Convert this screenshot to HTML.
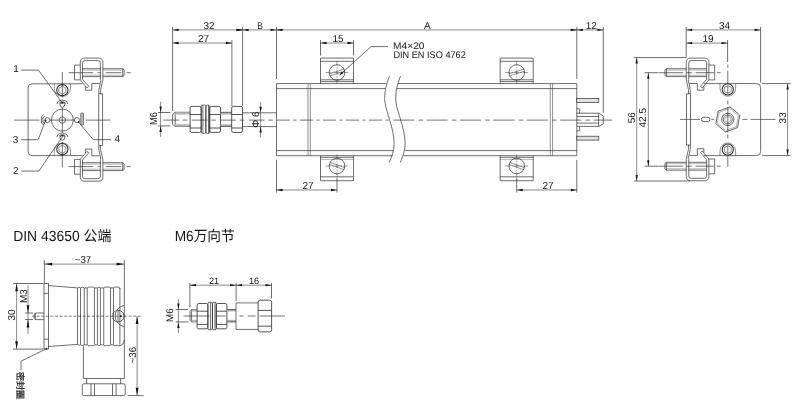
<!DOCTYPE html>
<html lang="zh"><head><meta charset="utf-8"><title>Dimensions</title>
<style>
html,body{margin:0;padding:0;background:#fff}
svg{display:block;will-change:transform}
svg line,svg path,svg rect,svg circle,svg polygon{fill:none;stroke:#2a2a2a;stroke-width:.68}
svg .d{stroke-width:.55}
svg .ar{fill:#111;stroke:none}
svg text.cj{stroke:#141414;stroke-width:.22}
svg .dot{fill:#111;stroke:none}
svg .pin{fill:#e2e2e2}
svg .th{stroke-width:.45;stroke:#555}
svg .thr{fill:#b4b4b4;stroke:none}
svg .ring{stroke-width:1.05}
svg .hx{stroke-width:.6;stroke:#444}
svg .n{stroke-width:.72}
svg .sl{stroke-width:.5}
svg .bar{fill:#c4c4c4;stroke-width:.6}
svg .nut{stroke-width:.8}
svg .lt{stroke-width:.45;stroke:#555}
svg .lt2{stroke-width:.6;stroke:#444}
svg .c{stroke-dasharray:9 2.2 2.2 2.2;stroke-width:.55}
svg .c2{stroke-dasharray:5 1.3 1.3 1.3;stroke-width:.45}
svg .c3{stroke-dasharray:3 1.6;stroke-width:.6}
svg .dsh{stroke-dasharray:1.6 1.1;stroke-width:.9}
svg .cl{stroke-width:.66}
svg text{font-family:"Liberation Sans","Noto Sans CJK SC",sans-serif;fill:#141414;stroke:none;text-rendering:geometricPrecision}
</style></head><body>
<svg width="800" height="407" viewBox="0 0 800 407">
<rect x="0" y="0" width="800" height="407" style="fill:#fff;stroke:none"/>

<g id="main">
<path d="M386.4 83.6 H276.5 V155.7 H392.6"/>
<path d="M385.4 88.6 H276.5"/>
<path d="M276.5 150.6 H393.6"/>
<line x1="308.00" y1="83.60" x2="308.00" y2="155.70" class="lt2"/>
<line x1="310.30" y1="83.60" x2="310.30" y2="155.70" class="lt2"/>
<path d="M398.0 83.6 H576.8 V155.7 H403.6"/>
<path d="M396.6 88.6 H576.8"/>
<path d="M404.8 150.6 H576.8"/>
<line x1="550.30" y1="83.60" x2="550.30" y2="155.70" class="lt2"/>
<line x1="552.60" y1="83.60" x2="552.60" y2="155.70" class="lt2"/>
<path d="M389.5 76.2 C386.3 84 383.9 93 384.9 102 C386.1 112 393.9 128 394.1 143 C394.3 151 391.5 157 389.3 162.4"/>
<path d="M400.5 76.2 C397.3 84 394.9 93 395.9 102 C397.1 112 404.9 128 405.1 143 C405.3 151 402.5 157 400.3 162.4"/>
<path d="M320.5 83.6 V58.1 H353.5 V83.6"/>
<line x1="320.50" y1="61.30" x2="353.50" y2="61.30"/>
<line x1="320.50" y1="79.80" x2="353.50" y2="79.80"/>
<line x1="320.50" y1="81.60" x2="353.50" y2="81.60"/>
<circle cx="337.00" cy="72.50" r="7.80"/>
<line x1="329.29" y1="73.71" x2="344.06" y2="69.19" class="sl"/>
<line x1="329.94" y1="75.81" x2="344.71" y2="71.29" class="sl"/>
<line x1="325.50" y1="72.50" x2="348.50" y2="72.50" class="c2"/>
<line x1="337.00" y1="61.00" x2="337.00" y2="84.00" class="c2"/>
<path d="M320.5 155.7 V180.7 H353.5 V155.7"/>
<line x1="320.50" y1="157.30" x2="353.50" y2="157.30"/>
<line x1="320.50" y1="159.40" x2="353.50" y2="159.40" class="lt"/>
<line x1="320.50" y1="176.80" x2="353.50" y2="176.80"/>
<circle cx="337.00" cy="166.00" r="7.80"/>
<line x1="330.12" y1="162.33" x2="344.63" y2="167.61" class="sl"/>
<line x1="329.37" y1="164.39" x2="343.88" y2="169.67" class="sl"/>
<line x1="325.50" y1="166.00" x2="348.50" y2="166.00" class="c2"/>
<line x1="337.00" y1="154.50" x2="337.00" y2="177.50" class="c2"/>
<path d="M500.20000000000005 83.6 V58.1 H533.2 V83.6"/>
<line x1="500.20" y1="61.30" x2="533.20" y2="61.30"/>
<line x1="500.20" y1="79.80" x2="533.20" y2="79.80"/>
<line x1="500.20" y1="81.60" x2="533.20" y2="81.60"/>
<circle cx="516.70" cy="72.50" r="7.80"/>
<line x1="508.99" y1="73.71" x2="523.76" y2="69.19" class="sl"/>
<line x1="509.64" y1="75.81" x2="524.41" y2="71.29" class="sl"/>
<line x1="505.20" y1="72.50" x2="528.20" y2="72.50" class="c2"/>
<line x1="516.70" y1="61.00" x2="516.70" y2="84.00" class="c2"/>
<path d="M500.20000000000005 155.7 V180.7 H533.2 V155.7"/>
<line x1="500.20" y1="157.30" x2="533.20" y2="157.30"/>
<line x1="500.20" y1="159.40" x2="533.20" y2="159.40" class="lt"/>
<line x1="500.20" y1="176.80" x2="533.20" y2="176.80"/>
<circle cx="516.70" cy="166.00" r="7.80"/>
<line x1="509.82" y1="162.33" x2="524.33" y2="167.61" class="sl"/>
<line x1="509.07" y1="164.39" x2="523.58" y2="169.67" class="sl"/>
<line x1="505.20" y1="166.00" x2="528.20" y2="166.00" class="c2"/>
<line x1="516.70" y1="154.50" x2="516.70" y2="177.50" class="c2"/>
<line x1="242.50" y1="112.80" x2="276.50" y2="112.80"/>
<line x1="242.50" y1="126.60" x2="276.50" y2="126.60"/>
<path d="M190.20 112.30 H175.20 L172.60 114.50 V124.30 L175.20 126.50 H190.20"/>
<line x1="175.20" y1="112.30" x2="175.20" y2="126.50"/>
<rect x="175.20" y="112.30" width="15.00" height="2.30" class="thr"/>
<rect x="175.20" y="124.20" width="15.00" height="2.30" class="thr"/>
<rect x="190.10" y="106.40" width="11.10" height="26.00" rx="1.6" class="nut"/>
<line x1="190.10" y1="114.50" x2="201.20" y2="114.50" class="nut"/>
<line x1="190.10" y1="128.00" x2="201.20" y2="128.00" class="nut"/>
<rect x="209.70" y="106.40" width="10.80" height="26.00" rx="1.6" class="nut"/>
<line x1="209.70" y1="114.50" x2="220.50" y2="114.50" class="nut"/>
<line x1="209.70" y1="128.00" x2="220.50" y2="128.00" class="nut"/>
<rect x="201.20" y="105.10" width="4.65" height="28.30" rx="1.3"/>
<rect x="205.85" y="105.10" width="3.85" height="28.30" rx="1.3"/>
<line x1="202.90" y1="105.30" x2="202.90" y2="133.20"/>
<line x1="208.50" y1="105.30" x2="208.50" y2="133.20"/>
<rect x="220.50" y="112.30" width="11.20" height="2.30" class="thr"/>
<rect x="220.50" y="124.20" width="11.20" height="2.30" class="thr"/>
<line x1="220.50" y1="112.30" x2="231.70" y2="112.30"/>
<line x1="220.50" y1="126.50" x2="231.70" y2="126.50"/>
<rect x="231.70" y="106.40" width="10.80" height="26.00" rx="1.6" class="nut"/>
<line x1="231.70" y1="114.50" x2="242.50" y2="114.50" class="nut"/>
<line x1="231.70" y1="128.00" x2="242.50" y2="128.00" class="nut"/>
<rect x="576.80" y="98.60" width="22.00" height="3.90" class="pin"/>
<rect x="576.80" y="136.20" width="22.00" height="3.90" class="pin"/>
<path d="M576.8 113.2 H598.6 L603.3 115.8 V123.8 L598.6 126.39999999999999 H576.8"/>
<line x1="598.60" y1="113.20" x2="598.60" y2="126.40"/>
<line x1="576.80" y1="116.50" x2="598.60" y2="116.50"/>
<line x1="576.80" y1="123.10" x2="598.60" y2="123.10"/>
<path d="M576.8 108.8 H579.6 V113.2"/>
<path d="M576.8 130.8 H579.6 V126.39999999999999"/>
<line x1="163.25" y1="120.1" x2="277.5" y2="120.1" class="cl" stroke-dasharray="15.75 3.75 4.5 4.5"/>
<line x1="277" y1="120.1" x2="392" y2="120.1" class="cl" stroke-dasharray="13 3.5 3 3.5"/>
<line x1="393.25" y1="120.1" x2="612" y2="120.1" class="cl" stroke-dasharray="21 4.3 4.5 3.6"/>
<line x1="172.60" y1="27.00" x2="172.60" y2="111.00"/>
<line x1="231.90" y1="40.00" x2="231.90" y2="106.00"/>
<line x1="242.60" y1="27.00" x2="242.60" y2="106.00"/>
<line x1="276.50" y1="27.00" x2="276.50" y2="79.00"/>
<line x1="576.80" y1="27.00" x2="576.80" y2="79.00"/>
<line x1="603.30" y1="27.00" x2="603.30" y2="113.00"/>
<line x1="172.60" y1="29.90" x2="242.60" y2="29.90" class="d"/>
<polygon class="ar" points="172.60,29.90 178.60,28.75 178.60,31.05"/>
<polygon class="ar" points="242.60,29.90 236.60,31.05 236.60,28.75"/>
<text x="209.00" y="28.60" font-size="10" text-anchor="middle" class="t">32</text>
<line x1="172.60" y1="43.00" x2="231.90" y2="43.00" class="d"/>
<polygon class="ar" points="172.60,43.00 178.60,41.85 178.60,44.15"/>
<polygon class="ar" points="231.90,43.00 225.90,44.15 225.90,41.85"/>
<text x="203.50" y="41.70" font-size="10" text-anchor="middle" class="t">27</text>
<line x1="236.00" y1="29.90" x2="283.00" y2="29.90" class="d"/>
<polygon class="ar" points="242.60,29.90 248.60,28.75 248.60,31.05"/>
<polygon class="ar" points="276.50,29.90 270.50,31.05 270.50,28.75"/>
<polygon class="ar" points="242.60,29.90 236.60,31.05 236.60,28.75"/>
<text x="260.00" y="28.60" font-size="10" text-anchor="middle" class="t" textLength="5.6" lengthAdjust="spacingAndGlyphs">B</text>
<line x1="276.50" y1="29.90" x2="576.80" y2="29.90" class="d"/>
<polygon class="ar" points="276.50,29.90 282.50,28.75 282.50,31.05"/>
<polygon class="ar" points="576.80,29.90 570.80,31.05 570.80,28.75"/>
<text x="427.40" y="28.50" font-size="10" text-anchor="middle" class="t">A</text>
<line x1="570.00" y1="29.90" x2="603.30" y2="29.90" class="d"/>
<polygon class="ar" points="576.80,29.90 582.80,28.75 582.80,31.05"/>
<polygon class="ar" points="603.30,29.90 597.30,31.05 597.30,28.75"/>
<text x="591.30" y="28.70" font-size="10" text-anchor="middle" class="t">12</text>
<line x1="320.50" y1="40.00" x2="320.50" y2="55.50"/>
<line x1="353.50" y1="40.00" x2="353.50" y2="55.50"/>
<line x1="320.50" y1="43.00" x2="353.50" y2="43.00" class="d"/>
<polygon class="ar" points="320.50,43.00 326.50,41.85 326.50,44.15"/>
<polygon class="ar" points="353.50,43.00 347.50,44.15 347.50,41.85"/>
<text x="338.00" y="41.60" font-size="10" text-anchor="middle" class="t">15</text>
<line x1="276.50" y1="159.80" x2="276.50" y2="192.50"/>
<line x1="337.00" y1="178.00" x2="337.00" y2="192.50"/>
<line x1="276.50" y1="190.00" x2="337.00" y2="190.00" class="d"/>
<polygon class="ar" points="276.50,190.00 282.50,188.85 282.50,191.15"/>
<polygon class="ar" points="337.00,190.00 331.00,191.15 331.00,188.85"/>
<text x="308.00" y="188.90" font-size="10" text-anchor="middle" class="t">27</text>
<line x1="576.80" y1="159.80" x2="576.80" y2="192.50"/>
<line x1="516.70" y1="178.00" x2="516.70" y2="192.50"/>
<line x1="516.70" y1="190.00" x2="576.80" y2="190.00" class="d"/>
<polygon class="ar" points="516.70,190.00 522.70,188.85 522.70,191.15"/>
<polygon class="ar" points="576.80,190.00 570.80,191.15 570.80,188.85"/>
<text x="548.10" y="188.90" font-size="10" text-anchor="middle" class="t">27</text>
<line x1="157.90" y1="112.50" x2="170.40" y2="112.50"/>
<line x1="157.90" y1="125.90" x2="170.40" y2="125.90"/>
<line x1="160.60" y1="101.70" x2="160.60" y2="136.80" class="d"/>
<polygon class="ar" points="160.60,112.50 159.45,106.50 161.75,106.50"/>
<polygon class="ar" points="160.60,125.90 161.75,131.90 159.45,131.90"/>
<text x="157.10" y="118.60" font-size="10" text-anchor="middle" class="t" textLength="12.9" lengthAdjust="spacingAndGlyphs" transform="rotate(-90 157.10 118.60)">M6</text>
<line x1="260.60" y1="102.00" x2="260.60" y2="137.50" class="d"/>
<polygon class="ar" points="260.60,112.80 259.45,106.80 261.75,106.80"/>
<polygon class="ar" points="260.60,126.60 261.75,132.60 259.45,132.60"/>
<text x="258.90" y="119.60" font-size="10" text-anchor="middle" class="t" transform="rotate(-90 258.90 119.60)">Φ 6</text>
<path d="M388 46.6 H371 L339.5 75.2"/>
<polygon class="ar" points="339.50,75.20 341.84,71.53 343.38,73.23"/>
<text x="393.10" y="49.05" font-size="9.6" text-anchor="start" class="t" textLength="31.4" lengthAdjust="spacingAndGlyphs">M4×20</text>
<text x="393.40" y="58.40" font-size="9.6" text-anchor="start" class="t" textLength="72.4" lengthAdjust="spacingAndGlyphs">DIN EN ISO 4762</text>
</g>
<g id="left">
<path d="M82.4 83.8 H32.1 Q28.1 83.8 28.1 87.8 V151.6 Q28.1 155.6 32.1 155.6 H82.4"/>
<path d="M54.25 83.8 V88.4 A8.1 8.1 0 0 0 70.45 88.4 V83.8" class="lt2"/>
<path d="M54.25 155.6 V151.0 A8.1 8.1 0 0 1 70.45 151.0 V155.6" class="lt2"/>
<circle cx="62.35" cy="90.20" r="5.60" class="ring"/>
<polygon class="hx" points="65.81,92.20 62.35,94.20 58.89,92.20 58.89,88.20 62.35,86.20 65.81,88.20"/>
<circle cx="62.35" cy="149.20" r="5.60" class="ring"/>
<polygon class="hx" points="65.81,151.20 62.35,153.20 58.89,151.20 58.89,147.20 62.35,145.20 65.81,147.20"/>
<circle cx="62.35" cy="120.10" r="11.00"/>
<circle cx="62.35" cy="120.10" r="3.20"/>
<line x1="14.00" y1="120.10" x2="39.50" y2="120.10" class="cl"/>
<line x1="49.85" y1="120.10" x2="74.85" y2="120.10" class="cl"/>
<line x1="85.50" y1="120.10" x2="110.50" y2="120.10" class="cl"/>
<line x1="62.35" y1="72.00" x2="62.35" y2="97.50" class="cl"/>
<line x1="62.35" y1="107.60" x2="62.35" y2="132.60" class="cl"/>
<line x1="62.35" y1="142.00" x2="62.35" y2="167.50" class="cl"/>
<g transform="translate(62.35 102.40) rotate(0)">
<circle cx="0.00" cy="2.40" r="2.40" class="n"/>
<path d="M-5.4 1.6 L-4.6 -0.7 Q0 -3.9 4.6 -0.7 L5.4 1.6" class="n"/>
<path d="M-3.4 1.0 Q0 -2.2 3.4 1.0" class="n"/>
<circle cx="0.00" cy="0.50" r="0.90" class="dot"/>
</g>
<g transform="translate(62.35 135.30) rotate(0)">
<circle cx="0.00" cy="2.40" r="2.40" class="n"/>
<path d="M-5.4 1.6 L-4.6 -0.7 Q0 -3.9 4.6 -0.7 L5.4 1.6" class="n"/>
<path d="M-3.4 1.0 Q0 -2.2 3.4 1.0" class="n"/>
<circle cx="0.00" cy="0.50" r="0.90" class="dot"/>
</g>
<path d="M43.9 114.6 L41.4 116.8 V123.0 L43.9 125.0" class="n"/>
<path d="M44.7 116.3 L42.9 117.7 V122.2 L44.7 123.7" class="n"/>
<circle cx="47.40" cy="120.10" r="2.50" class="n"/>
<circle cx="45.50" cy="120.50" r="0.90" class="dot"/>
<circle cx="76.90" cy="120.10" r="2.50" class="n"/>
<rect x="80.80" y="113.10" width="2.60" height="12.00" rx="0.6" class="bar"/>
<circle cx="78.60" cy="122.20" r="0.90" class="dot"/>
<path d="M80.30 79.90 V62.30 Q80.30 58.10 84.50 58.10 H98.70 Q102.90 58.10 102.90 62.30 V79.60"/>
<path d="M82.50 79.30 V63.00 Q82.50 60.60 84.90 60.60 H98.00 Q100.40 60.60 100.40 63.00 V79.60"/>
<path d="M80.30 79.90 L86.80 87.90 L88.80 86.40 L82.50 79.30"/>
<path d="M85.30 86.30 V90.20 H91.80 V83.50 H99.50"/>
<path d="M102.90 79.60 L102.70 80.30 L100.60 90.20 L100.60 93.90"/>
<path d="M100.40 79.60 L100.80 80.30 L98.80 90.20 L98.90 93.90"/>
<path d="M80.30 65.10 H74.50 V79.90 H80.30"/>
<line x1="82.50" y1="68.70" x2="100.40" y2="68.70"/>
<line x1="82.50" y1="76.60" x2="100.40" y2="76.60"/>
<line x1="82.50" y1="70.10" x2="100.40" y2="70.10" class="th"/>
<line x1="82.50" y1="75.20" x2="100.40" y2="75.20" class="th"/>
<path d="M102.90 68.70 H122.70 L124.20 69.90 V75.40 L122.70 76.60 H102.90"/>
<line x1="122.70" y1="68.70" x2="122.70" y2="76.60"/>
<line x1="102.90" y1="70.10" x2="122.70" y2="70.10" class="th"/>
<line x1="102.90" y1="75.20" x2="122.70" y2="75.20" class="th"/>
<line x1="68.50" y1="72.70" x2="130.80" y2="72.70" class="cl" stroke-dasharray="24.7 4.4 2.8 5.5 15.5 5 4.4"/>
<path d="M80.30 159.40 V177.00 Q80.30 181.20 84.50 181.20 H98.70 Q102.90 181.20 102.90 177.00 V159.70"/>
<path d="M82.50 160.00 V176.30 Q82.50 178.70 84.90 178.70 H98.00 Q100.40 178.70 100.40 176.30 V159.70"/>
<path d="M80.30 159.40 L86.80 151.40 L88.80 152.90 L82.50 160.00"/>
<path d="M85.30 153.00 V149.10 H91.80 V155.80 H99.50"/>
<path d="M102.90 159.70 L102.70 159.00 L100.60 149.10 L100.60 145.40"/>
<path d="M100.40 159.70 L100.80 159.00 L98.80 149.10 L98.90 145.40"/>
<path d="M80.30 174.20 H74.50 V159.40 H80.30"/>
<line x1="82.50" y1="170.60" x2="100.40" y2="170.60"/>
<line x1="82.50" y1="162.70" x2="100.40" y2="162.70"/>
<line x1="82.50" y1="169.20" x2="100.40" y2="169.20" class="th"/>
<line x1="82.50" y1="164.10" x2="100.40" y2="164.10" class="th"/>
<path d="M102.90 170.60 H122.70 L124.20 169.40 V163.90 L122.70 162.70 H102.90"/>
<line x1="122.70" y1="170.60" x2="122.70" y2="162.70"/>
<line x1="102.90" y1="169.20" x2="122.70" y2="169.20" class="th"/>
<line x1="102.90" y1="164.10" x2="122.70" y2="164.10" class="th"/>
<line x1="68.50" y1="166.60" x2="130.80" y2="166.60" class="cl" stroke-dasharray="24.7 4.4 2.8 5.5 15.5 5 4.4"/>
<rect x="98.80" y="93.90" width="3.90" height="51.50"/>
<text x="16.00" y="71.90" font-size="10" text-anchor="middle" class="t">1</text>
<path d="M20.8 70.1 H38.5 L61.9 102.4"/>
<text x="15.70" y="173.60" font-size="10" text-anchor="middle" class="t">2</text>
<path d="M21.2 171.1 H38.9 L62.3 136.8"/>
<text x="15.60" y="142.70" font-size="10" text-anchor="middle" class="t">3</text>
<path d="M21.2 139.7 H38.2 L45.4 120.8"/>
<text x="117.20" y="141.50" font-size="10" text-anchor="middle" class="t">4</text>
<path d="M111 139.6 H93.2 L78.8 122.4"/>
</g>
<g id="right">
<path d="M703.7 83.6 H756.6 Q760.6 83.6 760.6 87.6 V151.6 Q760.6 155.6 756.6 155.6 H703.7"/>
<path d="M720.0 83.6 V88.4 A7.8 7.8 0 0 0 735.5999999999999 88.4 V83.6" class="lt2"/>
<path d="M720.0 155.6 V150.8 A7.8 7.8 0 0 1 735.5999999999999 150.8 V155.6" class="lt2"/>
<circle cx="727.80" cy="89.40" r="5.60" class="ring"/>
<polygon class="hx" points="731.26,91.40 727.80,93.40 724.34,91.40 724.34,87.40 727.80,85.40 731.26,87.40"/>
<circle cx="727.80" cy="149.60" r="5.60" class="ring"/>
<polygon class="hx" points="731.26,151.60 727.80,153.60 724.34,151.60 724.34,147.60 727.80,145.60 731.26,147.60"/>
<polygon class="n" points="739.73,115.06 737.53,127.56 725.59,131.91 715.87,123.74 718.07,111.24 730.01,106.89"/>
<polygon class="lt" points="738.32,115.57 736.38,126.60 725.86,130.43 717.28,123.23 719.22,112.20 729.74,108.37"/>
<circle cx="727.80" cy="119.40" r="6.10" class="n"/>
<circle cx="727.80" cy="119.40" r="4.50"/>
<circle cx="727.80" cy="119.40" r="3.00" class="lt"/>
<rect x="701.30" y="117.30" width="8.70" height="4.20" rx="2.1" class="n"/>
<line x1="680.00" y1="119.40" x2="700.00" y2="119.40" class="cl"/>
<line x1="711.30" y1="119.40" x2="714.20" y2="119.40" class="cl"/>
<line x1="742.50" y1="119.40" x2="747.50" y2="119.40" class="cl"/>
<line x1="750.60" y1="119.40" x2="775.50" y2="119.40" class="cl"/>
<line x1="727.80" y1="64.50" x2="727.80" y2="68.00" class="cl"/>
<line x1="727.80" y1="70.50" x2="727.80" y2="83.60" class="cl"/>
<line x1="727.80" y1="85.60" x2="727.80" y2="93.60" class="cl"/>
<line x1="727.80" y1="100.60" x2="727.80" y2="104.40" class="cl"/>
<line x1="727.80" y1="106.90" x2="727.80" y2="132.50" class="cl"/>
<line x1="727.80" y1="134.40" x2="727.80" y2="138.10" class="cl"/>
<line x1="727.80" y1="145.60" x2="727.80" y2="153.60" class="cl"/>
<line x1="727.80" y1="155.40" x2="727.80" y2="167.00" class="cl"/>
<path d="M708.85 79.90 V62.30 Q708.85 58.10 704.65 58.10 H690.45 Q686.25 58.10 686.25 62.30 V79.60"/>
<path d="M706.65 79.30 V63.00 Q706.65 60.60 704.25 60.60 H691.15 Q688.75 60.60 688.75 63.00 V79.60"/>
<path d="M708.85 79.90 L702.35 87.90 L700.35 86.40 L706.65 79.30"/>
<path d="M703.85 86.30 V90.20 H697.35 V83.50 H689.65"/>
<path d="M686.25 79.60 L686.45 80.30 L688.55 90.20 L688.55 93.90"/>
<path d="M688.75 79.60 L688.35 80.30 L690.35 90.20 L690.25 93.90"/>
<path d="M708.85 65.10 H714.65 V79.90 H708.85"/>
<line x1="706.65" y1="68.70" x2="688.75" y2="68.70"/>
<line x1="706.65" y1="76.60" x2="688.75" y2="76.60"/>
<line x1="706.65" y1="70.10" x2="688.75" y2="70.10" class="th"/>
<line x1="706.65" y1="75.20" x2="688.75" y2="75.20" class="th"/>
<path d="M686.25 68.70 H666.45 L664.95 69.90 V75.40 L666.45 76.60 H686.25"/>
<line x1="666.45" y1="68.70" x2="666.45" y2="76.60"/>
<line x1="686.25" y1="70.10" x2="666.45" y2="70.10" class="th"/>
<line x1="686.25" y1="75.20" x2="666.45" y2="75.20" class="th"/>
<line x1="658.35" y1="72.70" x2="720.65" y2="72.70" class="cl" stroke-dasharray="24.6 3.7 5.2 3.7 18.4 3 3.7"/>
<path d="M708.85 159.00 V176.60 Q708.85 180.80 704.65 180.80 H690.45 Q686.25 180.80 686.25 176.60 V159.30"/>
<path d="M706.65 159.60 V175.90 Q706.65 178.30 704.25 178.30 H691.15 Q688.75 178.30 688.75 175.90 V159.30"/>
<path d="M708.85 159.00 L702.35 151.00 L700.35 152.50 L706.65 159.60"/>
<path d="M703.85 152.60 V148.70 H697.35 V155.40 H689.65"/>
<path d="M686.25 159.30 L686.45 158.60 L688.55 148.70 L688.55 145.00"/>
<path d="M688.75 159.30 L688.35 158.60 L690.35 148.70 L690.25 145.00"/>
<path d="M708.85 173.80 H714.65 V159.00 H708.85"/>
<line x1="706.65" y1="170.20" x2="688.75" y2="170.20"/>
<line x1="706.65" y1="162.30" x2="688.75" y2="162.30"/>
<line x1="706.65" y1="168.80" x2="688.75" y2="168.80" class="th"/>
<line x1="706.65" y1="163.70" x2="688.75" y2="163.70" class="th"/>
<path d="M686.25 170.20 H666.45 L664.95 169.00 V163.50 L666.45 162.30 H686.25"/>
<line x1="666.45" y1="170.20" x2="666.45" y2="162.30"/>
<line x1="686.25" y1="168.80" x2="666.45" y2="168.80" class="th"/>
<line x1="686.25" y1="163.70" x2="666.45" y2="163.70" class="th"/>
<line x1="658.35" y1="166.20" x2="720.65" y2="166.20" class="cl" stroke-dasharray="24.6 3.7 5.2 3.7 18.4 3 3.7"/>
<rect x="686.50" y="93.90" width="3.90" height="51.10"/>
<line x1="686.20" y1="27.00" x2="686.20" y2="57.60"/>
<line x1="760.60" y1="27.00" x2="760.60" y2="82.50"/>
<line x1="686.20" y1="29.90" x2="760.60" y2="29.90" class="d"/>
<polygon class="ar" points="686.20,29.90 692.20,28.75 692.20,31.05"/>
<polygon class="ar" points="760.60,29.90 754.60,31.05 754.60,28.75"/>
<text x="724.60" y="28.80" font-size="10" text-anchor="middle" class="t">34</text>
<line x1="727.60" y1="40.00" x2="727.60" y2="62.00"/>
<line x1="686.20" y1="43.10" x2="727.60" y2="43.10" class="d"/>
<polygon class="ar" points="686.20,43.10 692.20,41.95 692.20,44.25"/>
<polygon class="ar" points="727.60,43.10 721.60,44.25 721.60,41.95"/>
<text x="708.00" y="41.90" font-size="10" text-anchor="middle" class="t">19</text>
<line x1="634.00" y1="57.60" x2="686.20" y2="57.60"/>
<line x1="634.00" y1="181.00" x2="690.00" y2="181.00"/>
<line x1="636.70" y1="57.60" x2="636.70" y2="181.00" class="d"/>
<polygon class="ar" points="636.70,57.60 637.85,63.60 635.55,63.60"/>
<polygon class="ar" points="636.70,181.00 635.55,175.00 637.85,175.00"/>
<text x="634.60" y="117.70" font-size="10" text-anchor="middle" class="t" transform="rotate(-90 634.60 117.70)">56</text>
<line x1="644.50" y1="72.70" x2="658.00" y2="72.70"/>
<line x1="644.50" y1="166.20" x2="658.00" y2="166.20"/>
<line x1="648.30" y1="72.70" x2="648.30" y2="166.20" class="d"/>
<polygon class="ar" points="648.30,72.70 649.45,78.70 647.15,78.70"/>
<polygon class="ar" points="648.30,166.20 647.15,160.20 649.45,160.20"/>
<text x="646.20" y="117.70" font-size="10" text-anchor="middle" class="t" transform="rotate(-90 646.20 117.70)">42.5</text>
<line x1="762.00" y1="83.60" x2="790.50" y2="83.60"/>
<line x1="762.00" y1="155.60" x2="790.50" y2="155.60"/>
<line x1="787.60" y1="83.60" x2="787.60" y2="155.60" class="d"/>
<polygon class="ar" points="787.60,83.60 788.75,89.60 786.45,89.60"/>
<polygon class="ar" points="787.60,155.60 786.45,149.60 788.75,149.60"/>
<text x="785.70" y="117.80" font-size="10" text-anchor="middle" class="t" transform="rotate(-90 785.70 117.80)">33</text>
</g>
<g id="din">
<text x="13.20" y="241.20" font-size="14.6" text-anchor="start" class="tt" textLength="98.2" lengthAdjust="spacingAndGlyphs">DIN 43650 公端</text>
<line x1="44.40" y1="260.00" x2="44.40" y2="283.40"/>
<line x1="124.30" y1="260.00" x2="124.30" y2="378.60"/>
<line x1="44.40" y1="264.10" x2="124.30" y2="264.10" class="d"/>
<polygon class="ar" points="44.40,264.10 52.20,262.70 52.20,265.50"/>
<polygon class="ar" points="124.30,264.10 116.50,265.50 116.50,262.70"/>
<text x="83.00" y="262.70" font-size="10" text-anchor="middle" class="t" textLength="16.4" lengthAdjust="spacingAndGlyphs">~37</text>
<rect x="44.00" y="283.60" width="4.40" height="65.40"/>
<line x1="44.00" y1="293.40" x2="48.40" y2="293.40"/>
<line x1="44.00" y1="339.20" x2="48.40" y2="339.20"/>
<path d="M48.4 285.6 L77.5 287.9"/>
<path d="M48.4 346.5 L77.5 344.4"/>
<line x1="77.50" y1="288.00" x2="77.50" y2="344.60"/>
<line x1="80.50" y1="288.00" x2="80.50" y2="344.60"/>
<line x1="84.25" y1="288.00" x2="84.25" y2="344.60"/>
<line x1="87.25" y1="288.00" x2="87.25" y2="344.60"/>
<line x1="94.40" y1="288.00" x2="94.40" y2="344.60"/>
<line x1="97.40" y1="288.00" x2="97.40" y2="344.60"/>
<line x1="100.40" y1="288.00" x2="100.40" y2="344.60"/>
<line x1="103.75" y1="288.00" x2="103.75" y2="344.60"/>
<line x1="110.50" y1="288.00" x2="110.50" y2="344.60"/>
<line x1="113.50" y1="288.00" x2="113.50" y2="344.60"/>
<line x1="119.90" y1="288.00" x2="119.90" y2="344.60"/>
<path d="M77.5 288.1 Q79 286.5 80.5 287.9 Q82.4 286.3 84.25 287.9 L87.25 287.9 L88 287.1 H93.6 L94.4 287.9 L97.4 287.9 Q98.9 286.3 100.4 287.9 L103.75 287.9 L104.5 287.1 H109.8 L110.5 287.9 L113.5 287.9 L114.2 287.1 H118.4 Q119.9 287.2 119.9 289"/>
<path d="M77.5 344.5 Q79 346.3 80.5 344.8 Q82.4 346.5 84.25 344.8 L87.25 344.8 L88 345.7 H93.6 L94.4 344.8 L97.4 344.8 Q98.9 346.5 100.4 344.8 L103.75 344.8 L104.5 345.7 H109.8 L110.5 344.8 L113.5 344.8 L114.2 345.7 H119 Q124.2 345 124.3 340"/>
<path d="M124.3 305.4 A10.7 10.7 0 0 0 124.3 326.6"/>
<path d="M118.2 310.3 A5.8 5.8 0 0 1 118.2 321.9" class="nut"/>
<path d="M118.2 310.3 A5.8 5.8 0 0 0 118.2 321.9" class="dsh"/>
<line x1="118.00" y1="310.40" x2="118.00" y2="321.80"/>
<circle cx="120.80" cy="316.20" r="1.00" class="dot"/>
<line x1="83.40" y1="345.70" x2="83.40" y2="378.50"/>
<path d="M83.4 378.5 H124.3"/>
<path d="M86.6 378.6 V383.8 M120.6 378.6 V383.8"/>
<rect x="82.30" y="383.80" width="42.90" height="11.80" rx="1.5"/>
<line x1="91.00" y1="383.80" x2="91.00" y2="395.60"/>
<line x1="94.50" y1="383.80" x2="94.50" y2="395.60"/>
<line x1="112.50" y1="383.80" x2="112.50" y2="395.60"/>
<line x1="116.10" y1="383.80" x2="116.10" y2="395.60"/>
<line x1="32.00" y1="316.20" x2="141.00" y2="316.20" class="c3"/>
<path d="M44 313 H35.2 L34.2 314 V318.6 L35.2 319.6 H44"/>
<line x1="35.40" y1="313.00" x2="35.40" y2="319.60"/>
<line x1="13.00" y1="283.50" x2="43.00" y2="283.50"/>
<line x1="13.00" y1="349.10" x2="43.00" y2="349.10"/>
<line x1="16.60" y1="283.50" x2="16.60" y2="349.10" class="d"/>
<polygon class="ar" points="16.60,283.50 18.00,291.30 15.20,291.30"/>
<polygon class="ar" points="16.60,349.10 15.20,341.30 18.00,341.30"/>
<text x="15.20" y="314.90" font-size="10" text-anchor="middle" class="t" transform="rotate(-90 15.20 314.90)">30</text>
<line x1="25.00" y1="313.00" x2="33.00" y2="313.00"/>
<line x1="25.00" y1="319.60" x2="33.00" y2="319.60"/>
<line x1="28.00" y1="285.50" x2="28.00" y2="334.00" class="d"/>
<polygon class="ar" points="28.00,313.00 26.60,305.20 29.40,305.20"/>
<polygon class="ar" points="28.00,319.60 29.40,327.40 26.60,327.40"/>
<text x="27.10" y="296.00" font-size="10" text-anchor="middle" class="t" transform="rotate(-90 27.10 296.00)">M3</text>
<line x1="127.60" y1="395.60" x2="143.50" y2="395.60"/>
<line x1="137.10" y1="316.20" x2="137.10" y2="395.60" class="d"/>
<polygon class="ar" points="137.10,316.20 138.50,324.00 135.70,324.00"/>
<polygon class="ar" points="137.10,395.60 135.70,387.80 138.50,387.80"/>
<text x="135.60" y="355.10" font-size="10" text-anchor="middle" class="t" textLength="16.6" lengthAdjust="spacingAndGlyphs" transform="rotate(-90 135.60 355.10)">~36</text>
<circle cx="46.40" cy="348.80" r="0.90" class="dot"/>
<path d="M46.4 348.8 L21 361.2 V370.4"/>
<text x="16.70" y="371.90" font-size="9.0" text-anchor="start" class="cj" transform="rotate(90 16.70 371.90)">密封圈</text>
</g>
<g id="joint">
<text x="174.70" y="241.20" font-size="14.6" text-anchor="start" class="tt" textLength="60.0" lengthAdjust="spacingAndGlyphs">M6万向节</text>
<path d="M197.1 309.5 H191.60 L190.00 311.30 V320.10 L191.60 321.9 H197.1"/>
<line x1="191.60" y1="309.50" x2="191.60" y2="321.90"/>
<rect x="191.60" y="309.50" width="5.50" height="2.00" class="thr"/>
<rect x="191.60" y="319.90" width="5.50" height="2.00" class="thr"/>
<rect x="197.10" y="303.50" width="10.80" height="25.30" rx="1.6" class="nut"/>
<line x1="197.10" y1="311.20" x2="207.90" y2="311.20" class="nut"/>
<line x1="197.10" y1="324.40" x2="207.90" y2="324.40" class="nut"/>
<rect x="207.90" y="302.20" width="4.60" height="27.60" rx="1.3"/>
<rect x="212.50" y="302.20" width="3.80" height="27.60" rx="1.3"/>
<line x1="210.60" y1="302.40" x2="210.60" y2="329.60"/>
<line x1="215.00" y1="302.40" x2="215.00" y2="329.60"/>
<rect x="216.30" y="303.50" width="10.60" height="25.30" rx="1.6" class="nut"/>
<line x1="216.30" y1="311.20" x2="226.90" y2="311.20" class="nut"/>
<line x1="216.30" y1="324.40" x2="226.90" y2="324.40" class="nut"/>
<rect x="226.90" y="309.50" width="9.10" height="2.00" class="thr"/>
<rect x="226.90" y="319.90" width="9.10" height="2.00" class="thr"/>
<line x1="226.90" y1="309.50" x2="236.00" y2="309.50"/>
<line x1="226.90" y1="321.90" x2="236.00" y2="321.90"/>
<path d="M258.1 302.9 H236.0 V329.4 H258.1"/>
<rect x="258.10" y="300.20" width="13.50" height="31.70" rx="2.0" class="nut"/>
<line x1="258.10" y1="310.40" x2="271.60" y2="310.40" class="nut"/>
<line x1="258.10" y1="326.20" x2="271.60" y2="326.20" class="nut"/>
<line x1="183.6" y1="316.0" x2="285" y2="316.0" class="cl" stroke-dasharray="26 6 10 14 4 4 8 4 40"/>
<line x1="189.90" y1="283.00" x2="189.90" y2="307.50"/>
<line x1="236.10" y1="283.00" x2="236.10" y2="301.00"/>
<line x1="271.50" y1="283.00" x2="271.50" y2="298.50"/>
<line x1="189.90" y1="285.20" x2="236.10" y2="285.20" class="d"/>
<polygon class="ar" points="189.90,285.20 195.90,284.05 195.90,286.35"/>
<polygon class="ar" points="236.10,285.20 230.10,286.35 230.10,284.05"/>
<text x="214.00" y="283.80" font-size="9.2" text-anchor="middle" class="t">21</text>
<line x1="236.10" y1="285.20" x2="271.50" y2="285.20" class="d"/>
<polygon class="ar" points="236.10,285.20 242.10,284.05 242.10,286.35"/>
<polygon class="ar" points="271.50,285.20 265.50,286.35 265.50,284.05"/>
<text x="254.00" y="283.60" font-size="9.2" text-anchor="middle" class="t">16</text>
<line x1="175.70" y1="309.50" x2="188.20" y2="309.50"/>
<line x1="175.70" y1="321.90" x2="188.20" y2="321.90"/>
<line x1="178.40" y1="299.00" x2="178.40" y2="333.00" class="d"/>
<polygon class="ar" points="178.40,309.50 177.25,303.50 179.55,303.50"/>
<polygon class="ar" points="178.40,321.90 179.55,327.90 177.25,327.90"/>
<text x="173.20" y="315.20" font-size="9.6" text-anchor="middle" class="t" textLength="13.6" lengthAdjust="spacingAndGlyphs" transform="rotate(-90 173.20 315.20)">M6</text>
</g>
</svg></body></html>
